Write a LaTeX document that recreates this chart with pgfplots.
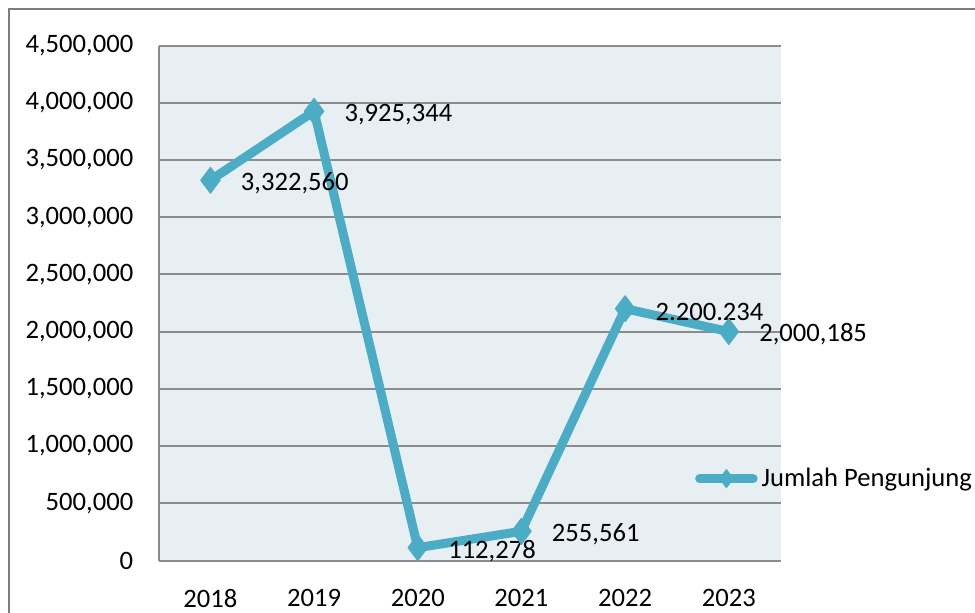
\documentclass[border=0pt]{standalone}
\usepackage{pgfplots}
\pgfplotsset{compat=1.18}
\usepackage{fontspec}
\setmainfont{Carlito}
\definecolor{linecol}{RGB}{75,172,198}
\definecolor{bgcol}{RGB}{232,239,243}
\definecolor{gridcol}{RGB}{140,140,140}
\begin{document}
\begin{tikzpicture}[x=0.5pt,y=0.5pt]
\useasboundingbox (0,0) rectangle (975,612);
\clip (0,0) rectangle (975,612);
\draw[gridcol!90!black, line width=0.9pt] (9,-20) -- (9,603) -- (1000,603);
\begin{axis}[
  at={(153,45)}, anchor=south west,
  scale only axis, width=311pt, height=257.5pt,
  xmin=-0.5, xmax=5.5, ymin=0, ymax=4500000,
  xtick={0,1,2,3,4,5},
  xticklabels={2018,2019,2020,2021,2022,2023},
  ytick={0,500000,...,4500000},
  scaled y ticks=false,
  /pgf/number format/fixed,
  /pgf/number format/1000 sep={,},
  /pgf/number format/assume math mode=true,
  major tick length=0pt,
  axis lines*=left,
  axis line style={-, draw=gridcol, line width=1pt},
  ymajorgrids,
  grid style={draw=gridcol, line width=1pt},
  axis background/.style={fill=bgcol},
  tick label style={font=\fontsize{13.3}{15}\selectfont, text=black},
  yticklabel style={anchor=east, inner sep=0pt, xshift=-12.5pt},
  xticklabel style={anchor=north, inner sep=0pt, yshift=-14pt},
  clip=false,
  legend style={at={(0.862,0.159)}, anchor=west, draw=none, fill=none,
    font=\fontsize{13.3}{15}\selectfont, inner sep=0pt},
  legend image code/.code={\draw[mark repeat=2,mark phase=2,#1,mark size=4.5pt]
    plot coordinates {(0cm,0cm) (0.47cm,0cm) (0.94cm,0cm)};},
]
\addplot[color=linecol, line width=4.5pt, line cap=round, line join=round,
  mark=diamond*, mark size=6.5pt, mark options={line width=0.5pt, solid, fill=linecol},
  point meta=explicit symbolic,
  nodes near coords,
  every node near coord/.append style={anchor=west, inner sep=0pt, xshift=15pt, yshift=-1.5pt,
    font=\fontsize{13.3}{15}\selectfont, text=black},
] coordinates {
(0,3322560) [{3,322,560}]
(1,3925344) [{3,925,344}]
(2,112278) [{112,278}]
(3,255561) [{255,561}]
(4,2200234) [{2.200.234}]
(5,2000185) [{2,000,185}]
};
\addlegendentry{Jumlah Pengunjung}
\end{axis}
\end{tikzpicture}
\end{document}
